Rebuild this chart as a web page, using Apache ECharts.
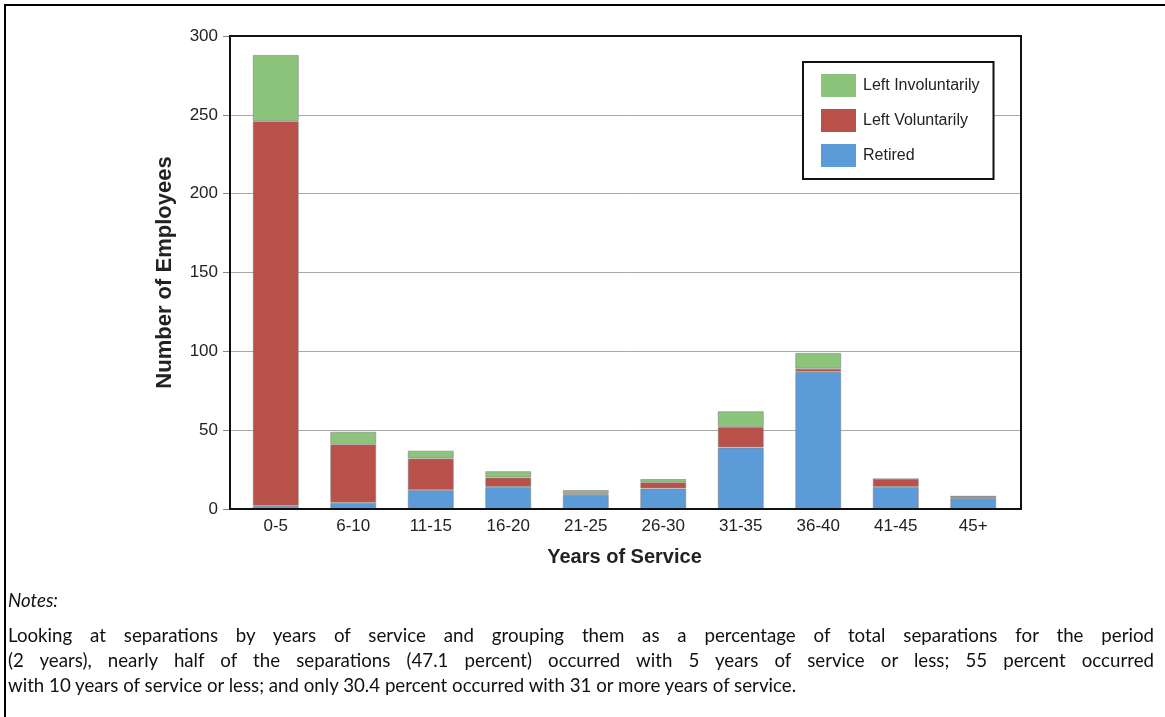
<!DOCTYPE html>
<html>
<head>
<meta charset="utf-8">
<script src="https://cdn.jsdelivr.net/npm/echarts@6/dist/echarts.min.js"></script>
<style>
  html, body { margin: 0; padding: 0; background: #fff; }
  #wrap { position: relative; width: 1165px; height: 717px; }
  #chart { position: absolute; left: 0; top: 0; width: 1165px; height: 717px; }
  #notes { position: absolute; left: 8px; top: 586px; width: 1146px; font-family: Lato, 'Open Sans', sans-serif; font-size: 18.7px; color: #111; }
  #notes .title { font-style: italic; height: 28px; line-height: 28px; }
  #notes .line { height: 25px; line-height: 25px; white-space: nowrap; }
  #notes .just { text-align: justify; text-align-last: justify; }
</style>
</head>
<body>
<div id="wrap">
  <div id="chart"></div>
  <div id="notes">
    <div class="title">Notes:</div>
    <div class="line just" style="margin-top:9px">Looking at separations by years of service and grouping them as a percentage of total separations for the period</div>
    <div class="line just">(2 years), nearly half of the separations (47.1 percent) occurred with 5 years of service or less; 55 percent occurred</div>
    <div class="line">with 10 years of service or less; and only 30.4 percent occurred with 31 or more years of service.</div>
  </div>
</div>
<script>
const categories = ['0-5', '6-10', '11-15', '16-20', '21-25', '26-30', '31-35', '36-40', '41-45', '45+'];
const retired = [2, 4, 12, 14, 9, 13, 39, 87, 14, 7];
const leftVoluntarily = [244, 37, 20, 6, 1, 4, 13, 2, 5, 1];
const leftInvoluntarily = [42, 8, 5, 4, 2, 2, 10, 10, 0, 0];
const yTicks = [0, 50, 100, 150, 200, 250, 300];

const FONT = "'Liberation Sans', Arial, sans-serif";
const COLORS = { retired: '#5b9bd8', vol: '#b7514a', invol: '#8cc47c' };

const chart = echarts.init(document.getElementById('chart'));

const barStyle = c => ({ color: c, borderColor: 'rgba(130,130,130,0.6)', borderWidth: 1 });

chart.setOption({
  animation: false,
  textStyle: { fontFamily: FONT },
  grid: [
    // frame, gridlines and y labels
    { left: 230, top: 36, width: 791, height: 473, show: true, borderColor: '#111', borderWidth: 2, backgroundColor: 'transparent', z: 5 },
    // bars (slightly inset so bar centres line up with the picture)
    { left: 237, top: 36, width: 775, height: 473 }
  ],
  legend: {
    orient: 'vertical',
    left: 803, top: 62,
    padding: [12, 14, 12, 18],
    icon: 'rect',
    itemWidth: 35, itemHeight: 23, itemGap: 12,
    backgroundColor: '#fff', borderColor: '#111', borderWidth: 2,
    data: ['Left Involuntarily', 'Left Voluntarily', 'Retired'],
    textStyle: { fontFamily: FONT, fontSize: 16, color: '#222', padding: [0, 0, 0, 2] },
    itemStyle: { borderWidth: 0 },
    z: 10
  },
  xAxis: [
    { gridIndex: 0, type: 'category', data: categories, show: false },
    {
      gridIndex: 1, type: 'category', data: categories,
      axisLine: { show: false }, axisTick: { show: false },
      axisLabel: { fontFamily: FONT, fontSize: 17, color: '#222', margin: 9 },
      name: 'Years of Service', nameLocation: 'middle', nameGap: 38,
      nameTextStyle: { fontFamily: FONT, fontSize: 20, fontWeight: 'bold', color: '#222' }
    }
  ],
  yAxis: [
    {
      gridIndex: 0, type: 'value', min: yTicks[0], max: yTicks[yTicks.length - 1], interval: 50,
      axisLine: { show: false },
      axisTick: { show: true, length: 7, lineStyle: { color: '#888' } },
      axisLabel: { fontFamily: FONT, fontSize: 17, color: '#222', margin: 12 },
      splitLine: { show: true, lineStyle: { color: '#a8a8a8', width: 1 } },
      name: 'Number of Employees', nameLocation: 'middle', nameGap: 54, nameRotate: 90,
      nameTextStyle: { fontFamily: FONT, fontSize: 22, fontWeight: 'bold', color: '#222' }
    },
    { gridIndex: 1, type: 'value', min: yTicks[0], max: yTicks[yTicks.length - 1], interval: 50, show: false }
  ],
  series: [
    { name: 'Retired', type: 'bar', stack: 's', xAxisIndex: 1, yAxisIndex: 1, barWidth: 46, data: retired, itemStyle: barStyle(COLORS.retired) },
    { name: 'Left Voluntarily', type: 'bar', stack: 's', xAxisIndex: 1, yAxisIndex: 1, barWidth: 46, data: leftVoluntarily, itemStyle: barStyle(COLORS.vol) },
    { name: 'Left Involuntarily', type: 'bar', stack: 's', xAxisIndex: 1, yAxisIndex: 1, barWidth: 46, data: leftInvoluntarily, itemStyle: barStyle(COLORS.invol) }
  ],
  graphic: [
    { type: 'line', shape: { x1: 5, y1: 5, x2: 1165, y2: 5 }, style: { stroke: '#000', lineWidth: 2 } },
    { type: 'line', shape: { x1: 5, y1: 4, x2: 5, y2: 717 }, style: { stroke: '#000', lineWidth: 2 } }
  ]
});
</script>
</body>
</html>
